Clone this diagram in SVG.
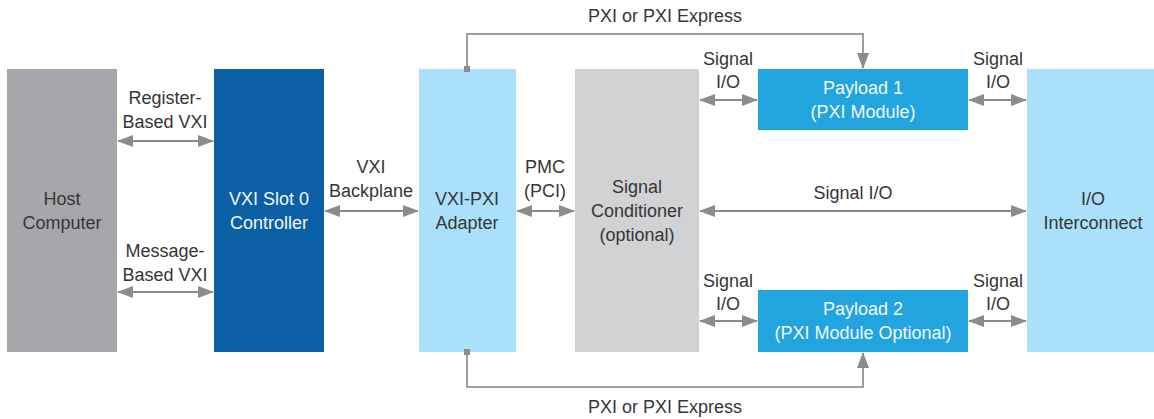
<svg xmlns="http://www.w3.org/2000/svg" width="1154" height="419" viewBox="0 0 1154 419">
<style>
text{font-family:"Liberation Sans",Arial,sans-serif;font-size:18px;fill:#363636;text-anchor:middle}
.w{fill:#f2f8fd}
.c{stroke:#8b8c8f;stroke-width:2;fill:none}
.p{stroke:#9d9ea1;stroke-width:2;fill:none}
</style>
<defs>
<marker id="ah" markerUnits="userSpaceOnUse" markerWidth="16" markerHeight="14" viewBox="0 0 16 14" refX="15" refY="7" orient="auto-start-reverse">
<path d="M0,1 L16,7 L0,13 Z" fill="#8b8c8f"/>
</marker>
</defs>
<rect width="1154" height="419" fill="#fff"/>
<g id="host"><rect x="7" y="69" width="110" height="283" fill="#a6a7aa"/><text x="62" y="205">Host</text><text x="62" y="229">Computer</text></g>
<g id="slot0"><rect x="214" y="69" width="110" height="283" fill="#0a5fa5"/><text class="w" x="269" y="205">VXI Slot 0</text><text class="w" x="269" y="229">Controller</text></g>
<g id="adapter"><rect x="419" y="69" width="97" height="283" fill="#abe0fa"/><text x="467" y="205">VXI-PXI</text><text x="467" y="229">Adapter</text></g>
<g id="conditioner"><rect x="575" y="69" width="124" height="283" fill="#d1d2d4"/><text x="637" y="193">Signal</text><text x="637" y="217">Conditioner</text><text x="637" y="241">(optional)</text></g>
<g id="payload1"><rect x="758" y="69" width="210" height="61" fill="#22a4de"/><text class="w" x="863" y="94">Payload 1</text><text class="w" x="863" y="118">(PXI Module)</text></g>
<g id="payload2"><rect x="758" y="290" width="210" height="62" fill="#22a4de"/><text class="w" x="863" y="315">Payload 2</text><text class="w" x="863" y="339">(PXI Module Optional)</text></g>
<g id="interconnect"><rect x="1027" y="69" width="127" height="283" fill="#abe0fa"/><text x="1093" y="205">I/O</text><text x="1093" y="229">Interconnect</text></g>
<g id="connectors">
<line class="c" x1="118" y1="141" x2="213" y2="141" marker-start="url(#ah)" marker-end="url(#ah)"/>
<line class="c" x1="118" y1="292" x2="213" y2="292" marker-start="url(#ah)" marker-end="url(#ah)"/>
<line class="c" x1="325" y1="211" x2="418" y2="211" marker-start="url(#ah)" marker-end="url(#ah)"/>
<line class="c" x1="517" y1="211" x2="574" y2="211" marker-start="url(#ah)" marker-end="url(#ah)"/>
<line class="c" x1="700" y1="211" x2="1026" y2="211" marker-start="url(#ah)" marker-end="url(#ah)"/>
<line class="c" x1="700" y1="100" x2="757" y2="100" marker-start="url(#ah)" marker-end="url(#ah)"/>
<line class="c" x1="969" y1="100" x2="1026" y2="100" marker-start="url(#ah)" marker-end="url(#ah)"/>
<line class="c" x1="700" y1="321" x2="757" y2="321" marker-start="url(#ah)" marker-end="url(#ah)"/>
<line class="c" x1="969" y1="321" x2="1026" y2="321" marker-start="url(#ah)" marker-end="url(#ah)"/>
<path class="p" d="M467,69 V34 H863 V68" marker-end="url(#ah)"/>
<rect x="464" y="66" width="6" height="6" fill="#8b8c8f"/>
<path class="p" d="M467,352 V387 H863 V353" marker-end="url(#ah)"/>
<rect x="464" y="349" width="6" height="6" fill="#8b8c8f"/>
<text x="165" y="104">Register-</text><text x="165" y="128">Based VXI</text>
<text x="165" y="257">Message-</text><text x="165" y="281">Based VXI</text>
<text x="371" y="173">VXI</text><text x="371" y="197">Backplane</text>
<text x="545" y="173">PMC</text><text x="545" y="197">(PCI)</text>
<text x="853" y="199">Signal I/O</text>
<text x="728" y="65">Signal</text><text x="728" y="88">I/O</text>
<text x="998" y="65">Signal</text><text x="998" y="88">I/O</text>
<text x="728" y="287">Signal</text><text x="728" y="310">I/O</text>
<text x="998" y="287">Signal</text><text x="998" y="310">I/O</text>
<text x="665" y="22">PXI or PXI Express</text>
<text x="665" y="413">PXI or PXI Express</text>
</g>
</svg>
